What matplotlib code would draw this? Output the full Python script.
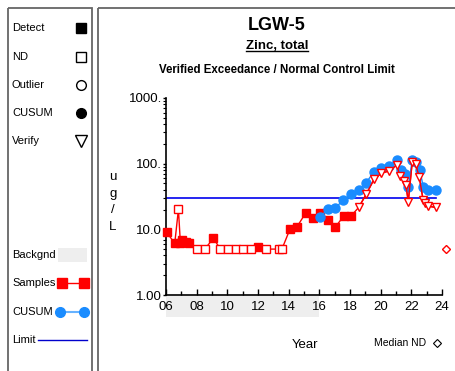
import matplotlib
matplotlib.use('Agg')
import matplotlib.pyplot as plt
import matplotlib.transforms as mtransforms
from matplotlib.patches import Rectangle
from matplotlib.ticker import LogLocator, FixedLocator, NullFormatter

plt.rcParams['font.family'] = ['Liberation Sans', 'DejaVu Sans']

# samples: year (20xx), value (ug/L), flag D=detect, N=non-detect, V=verify
sample_years = [6.05, 6.57, 6.81, 6.94, 7.07, 7.31, 7.53, 8.03, 8.53, 9.09,
                9.55, 10.05, 10.54, 11.04, 11.54, 12.02, 12.52, 13.36, 13.56,
                14.08, 14.54, 15.12, 15.58, 16.05, 16.57, 17.05, 17.60, 18.07,
                18.57, 19.05, 19.57, 20.04, 20.54, 21.06, 21.25, 21.50, 21.65,
                21.80, 22.06, 22.28, 22.52, 22.77, 22.90, 23.06, 23.58]
sample_vals = [9.0, 6.1, 20.2, 6.1, 6.9, 6.4, 6.1, 5.0, 5.0, 7.3,
               5.0, 5.0, 5.0, 5.0, 5.0, 5.3, 5.0, 5.0, 5.0,
               10.0, 10.9, 17.9, 15.0, 17.9, 13.9, 10.9, 16.0, 16.0,
               21.6, 34.1, 57.8, 71.5, 77.4, 95.5, 65.0, 55.0, 47.0,
               26.4, 107.0, 99.0, 62.0, 28.0, 25.0, 22.6, 21.6]
sample_flags = ['D', 'D', 'N', 'D', 'D', 'D', 'D', 'N', 'N', 'D',
                'N', 'N', 'N', 'N', 'N', 'D', 'N', 'N', 'N',
                'D', 'D', 'D', 'D', 'D', 'D', 'D', 'D', 'D',
                'V', 'V', 'V', 'V', 'V', 'V', 'V', 'V', 'V',
                'V', 'V', 'V', 'V', 'V', 'V', 'V', 'V']

cusum_years = [16.05, 16.57, 17.05, 17.57, 18.07, 18.57, 19.05, 19.57, 20.04,
               20.54, 21.06, 21.32, 21.58, 21.80, 22.06, 22.30, 22.56, 22.77,
               23.06, 23.58]
cusum_vals = [15.6, 20.2, 21.3, 28.0, 34.1, 39.7, 51.3, 75.5, 86.9,
              92.3, 114.0, 80.2, 69.7, 44.6, 114.0, 107.0, 80.0, 44.6,
              39.7, 39.7]

limit_value = 30.0
limit_range = [6.0, 23.6]
median_nd = 5.0
median_nd_year = 24.23
backgnd_range = [6.0, 16.0]

RED = '#ff0000'
BLUE = '#1a8cff'
LIMIT_BLUE = '#0000ee'

W, H = 455, 371
fig = plt.figure(figsize=(W / 100, H / 100), dpi=100)

# overlay in pixel coordinates for panels / legend / titles
ov = fig.add_axes([0, 0, 1, 1], zorder=0)
ov.set_xlim(0, W)
ov.set_ylim(H, 0)
ov.axis('off')

# panel frames
ov.add_patch(Rectangle((7.5, 7.5), 84, 370, fill=False, ec='#666666', lw=1.3))
ov.add_patch(Rectangle((97.5, 7.5), 370, 370, fill=False, ec='#666666', lw=1.3))

# legend column
leg_fs = 8
ov.text(12, 28, 'Detect', fontsize=leg_fs, va='center')
ov.plot(81, 28, 's', color='k', ms=7)
ov.text(12, 57, 'ND', fontsize=leg_fs, va='center')
ov.plot(81, 57, 's', mfc='white', mec='k', mew=1, ms=7)
ov.text(12, 85, 'Outlier', fontsize=leg_fs, va='center')
ov.plot(81, 85, 'o', mfc='white', mec='k', mew=1, ms=7)
ov.text(12, 113, 'CUSUM', fontsize=leg_fs, va='center')
ov.plot(81, 113, 'o', color='k', ms=7)
ov.text(12, 141, 'Verify', fontsize=leg_fs, va='center')
ov.plot(81, 141, 'v', mfc='white', mec='k', mew=1, ms=8)

ov.text(12, 255, 'Backgnd', fontsize=leg_fs, va='center')
ov.add_patch(Rectangle((58, 248), 29, 14, color='#eeeeee', lw=0))
ov.text(12, 283, 'Samples', fontsize=leg_fs, va='center')
ov.plot([62, 84], [283, 283], '-s', color=RED, lw=1, ms=7)
ov.text(12, 312, 'CUSUM', fontsize=leg_fs, va='center')
ov.plot([60, 84], [312, 312], '-', color='#66b2ff', lw=1.5)
ov.plot([60, 84], [312, 312], 'o', color=BLUE, ms=7)
ov.text(12, 340, 'Limit', fontsize=leg_fs, va='center')
ov.plot([38, 87], [340, 340], '-', color='#0000cc', lw=1)

# titles
cx = 277
ov.text(cx, 25, 'LGW-5', fontsize=13, fontweight='bold', ha='center', va='center')
zt = ov.text(cx, 46, 'Zinc, total', fontsize=9.5, fontweight='bold', ha='center', va='center')
ov.text(cx, 70, 'Verified Exceedance / Normal Control Limit', fontsize=8.3,
        fontweight='bold', ha='center', va='center')
fig.canvas.draw()
bb = zt.get_window_extent().transformed(ov.transData.inverted())
ov.plot([bb.x0, bb.x1], [bb.y0 - 1, bb.y0 - 1], color='k', lw=1)

# y label stacked
for i, ch in enumerate(['u', 'g', '/', 'L']):
    ov.text(113, 177 + i * 16.5, ch, fontsize=9.5, ha='center', va='center')

ov.text(305, 345, 'Year', fontsize=9.5, ha='center', va='center')
ov.text(400, 343, 'Median ND', fontsize=7.5, ha='center', va='center')
ov.plot(437, 343, 'D', mfc='white', mec='k', mew=0.8, ms=4)

# main chart
ax = fig.add_axes([166 / W, 1 - 295 / H, 276 / W, 197 / H], zorder=1)
ax.patch.set_visible(False)
ax.set_yscale('log')
ax.set_ylim(1, 1000)
ax.set_xlim(6, 24)
for s in ['top', 'right']:
    ax.spines[s].set_visible(False)
ax.spines['left'].set_linewidth(1.2)
ax.spines['bottom'].set_linewidth(1.2)

ax.set_yticks([1, 10, 100, 1000])
ax.set_yticklabels(['1.00', '10.0', '100.', '1000.'], fontsize=9.5)
ax.yaxis.set_minor_locator(LogLocator(base=10, subs=range(2, 10)))
ax.yaxis.set_minor_formatter(NullFormatter())
ax.tick_params(axis='y', which='major', direction='out', length=2, width=1, pad=1)
ax.tick_params(axis='y', which='minor', direction='out', length=2.5, width=0.8)

ax.set_xticks(range(6, 25, 2))
ax.set_xticklabels(['%02d' % y for y in range(6, 25, 2)], fontsize=9.5)
ax.xaxis.set_minor_locator(FixedLocator(range(7, 24, 2)))
ax.tick_params(axis='x', which='major', direction='in', length=4, width=1, pad=4)
ax.tick_params(axis='x', which='minor', direction='in', length=3, width=1)

# background band below axis
trans = mtransforms.blended_transform_factory(ax.transData, ax.transAxes)
ax.add_patch(Rectangle((backgnd_range[0], -0.11), backgnd_range[1] - backgnd_range[0], 0.105,
                       transform=trans, color='#eeeeee', lw=0, clip_on=False, zorder=0))

# limit
ax.plot(limit_range, [limit_value, limit_value], color=LIMIT_BLUE, lw=1.2, zorder=2)

# samples line
ax.plot(sample_years, sample_vals, '-', color=RED, lw=1, zorder=3)
det_x = [x for x, f in zip(sample_years, sample_flags) if f == 'D']
det_y = [v for v, f in zip(sample_vals, sample_flags) if f == 'D']
nd_x = [x for x, f in zip(sample_years, sample_flags) if f == 'N']
nd_y = [v for v, f in zip(sample_vals, sample_flags) if f == 'N']
ver_x = [x for x, f in zip(sample_years, sample_flags) if f == 'V']
ver_y = [v for v, f in zip(sample_vals, sample_flags) if f == 'V']
ax.plot(det_x, det_y, 's', color=RED, ms=6, zorder=3, clip_on=False)
ax.plot(nd_x, nd_y, 's', mfc='white', mec=RED, mew=1, ms=5.5, zorder=3, clip_on=False)

# cusum
ax.plot(cusum_years, cusum_vals, '-o', color=BLUE, lw=1, ms=6.5, zorder=4)

# verify markers
ax.plot(ver_x, ver_y, '-', color=RED, lw=1, zorder=5)
ax.plot(ver_x, ver_y, 'v', mfc='white', mec=RED, mew=1, ms=6, zorder=5)

# median ND
ax.plot(median_nd_year, median_nd, 'D', mfc='white', mec=RED, mew=1, ms=4, clip_on=False, zorder=5)

fig.savefig('out.png', dpi=100)
